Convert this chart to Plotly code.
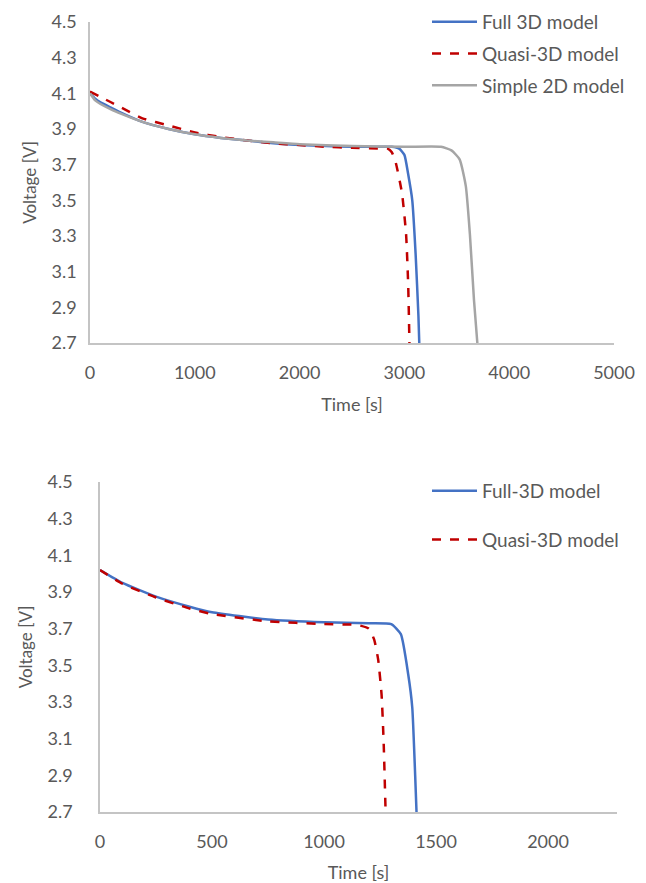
import plotly.graph_objects as go

# ---------------- data ----------------
# Top chart
t_full_top = [0, 50, 100, 200, 300, 500, 750, 1000, 1250, 1500, 1750, 2000, 2250, 2500, 2750, 2880, 2950, 3000, 3035, 3075, 3107, 3134, 3142]
v_full_top = [4.10, 4.07, 4.05, 4.02, 3.99, 3.94, 3.90, 3.87, 3.85, 3.835, 3.82, 3.81, 3.805, 3.80, 3.80, 3.80, 3.79, 3.755, 3.65, 3.50, 3.20, 2.85, 2.70]

t_quasi_top = [0, 100, 200, 300, 500, 750, 1000, 1250, 1500, 1750, 2000, 2250, 2500, 2750, 2840, 2880, 2918, 2977, 3016, 3036, 3048]
v_quasi_top = [4.11, 4.08, 4.05, 4.02, 3.96, 3.92, 3.88, 3.855, 3.835, 3.82, 3.81, 3.80, 3.795, 3.79, 3.79, 3.77, 3.71, 3.54, 3.31, 3.03, 2.70]

t_simple_top = [0, 50, 100, 200, 300, 500, 750, 1000, 1250, 1500, 1750, 2000, 2500, 3000, 3350, 3449, 3527, 3586, 3625, 3664, 3696]
v_simple_top = [4.10, 4.06, 4.04, 4.01, 3.985, 3.94, 3.90, 3.87, 3.85, 3.835, 3.825, 3.815, 3.805, 3.80, 3.80, 3.78, 3.73, 3.58, 3.31, 2.94, 2.70]

# Bottom chart
t_full_bot = [0, 100, 250, 400, 500, 750, 1000, 1200, 1300, 1343, 1376, 1394, 1407, 1413]
v_full_bot = [4.02, 3.95, 3.875, 3.82, 3.79, 3.75, 3.735, 3.73, 3.725, 3.67, 3.45, 3.27, 2.90, 2.70]

t_quasi_bot = [0, 100, 250, 400, 500, 750, 1000, 1150, 1200, 1224, 1242, 1257, 1266, 1275]
v_quasi_bot = [4.02, 3.945, 3.87, 3.81, 3.78, 3.74, 3.725, 3.72, 3.70, 3.64, 3.53, 3.34, 3.09, 2.70]

y_ticks = [2.7, 2.9, 3.1, 3.3, 3.5, 3.7, 3.9, 4.1, 4.3, 4.5]
y_tick_labels = ["2.7", "2.9", "3.1", "3.3", "3.5", "3.7", "3.9", "4.1", "4.3", "4.5"]
x_ticks_top = [0, 1000, 2000, 3000, 4000, 5000]
x_ticks_bot = [0, 500, 1000, 1500, 2000]

# ---------------- styling ----------------
W, H = 646, 883
FONT = "Lato"
TXT = "#595959"
AX = "#C4C4C4"
BLUE = "#4472C4"
RED = "#C00000"
GRAY = "#A5A5A5"
SHAPE = dict(shape="spline", smoothing=0.5)

fig = go.Figure()

fig.add_trace(go.Scatter(x=t_full_top, y=v_full_top, mode="lines", name="Full 3D model",
                         line=dict(color=BLUE, width=2.5, **SHAPE), xaxis="x", yaxis="y",
                         legend="legend", legendgroup="a"))
fig.add_trace(go.Scatter(x=t_quasi_top, y=v_quasi_top, mode="lines", name="Quasi-3D model",
                         line=dict(color=RED, width=2.5, dash="dash", **SHAPE), xaxis="x", yaxis="y",
                         legend="legend", legendgroup="b"))
fig.add_trace(go.Scatter(x=t_simple_top, y=v_simple_top, mode="lines", name="Simple 2D model",
                         line=dict(color=GRAY, width=2.5, **SHAPE), xaxis="x", yaxis="y",
                         legend="legend", legendgroup="c"))

fig.add_trace(go.Scatter(x=t_full_bot, y=v_full_bot, mode="lines", name="Full-3D model",
                         line=dict(color=BLUE, width=2.5, **SHAPE), xaxis="x2", yaxis="y2",
                         legend="legend2", legendgroup="d"))
fig.add_trace(go.Scatter(x=t_quasi_bot, y=v_quasi_bot, mode="lines", name="Quasi-3D model",
                         line=dict(color=RED, width=2.5, dash="dash", **SHAPE), xaxis="x2", yaxis="y2",
                         legend="legend2", legendgroup="e"))


def xax(domain, rng, ticks, anchor):
    return dict(domain=domain, range=rng, tickvals=ticks, ticktext=[str(t) for t in ticks],
                showgrid=False, zeroline=False, showline=True, linecolor=AX, linewidth=1.5,
                ticks="", ticklabelstandoff=13, tickfont=dict(family=FONT, size=18, color=TXT),
                title=dict(text="Time [s]", font=dict(family=FONT, size=18, color=TXT), standoff=16),
                anchor=anchor, fixedrange=True, automargin=False)


def yax(domain, anchor, label_gap):
    return dict(domain=domain, range=[2.7, 4.5], tickvals=y_ticks, ticktext=y_tick_labels,
                showgrid=False, zeroline=False, showline=True, linecolor=AX, linewidth=1.5,
                ticks="", ticklabelstandoff=label_gap, tickfont=dict(family=FONT, size=18, color=TXT),
                title=dict(text="Voltage [V]", font=dict(family=FONT, size=17, color=TXT), standoff=11),
                anchor=anchor, fixedrange=True, automargin=False)


fig.update_layout(
    width=W, height=H,
    margin=dict(l=0, r=0, t=0, b=0, autoexpand=False),
    paper_bgcolor="white", plot_bgcolor="white",
    xaxis=xax([90 / W, 614 / W], [0, 5000], x_ticks_top, "y"),
    yaxis=yax([1 - 343 / H, 1 - 22 / H], "x", 8),
    xaxis2=xax([100 / W, 617 / W], [0, 2308], x_ticks_bot, "y2"),
    yaxis2=yax([1 - 812 / H, 1 - 482 / H], "x2", 22),
    legend=dict(x=427 / W, y=1 - 3 / H, xanchor="left", yanchor="top",
                font=dict(family=FONT, size=19, color=TXT), bgcolor="rgba(0,0,0,0)",
                tracegroupgap=4, itemwidth=45),
    legend2=dict(x=427 / W, y=1 - 472 / H, xanchor="left", yanchor="top",
                 font=dict(family=FONT, size=19, color=TXT), bgcolor="rgba(0,0,0,0)",
                 tracegroupgap=21, itemwidth=45),
    showlegend=True,
)

fig.write_html("out.html", config={"displayModeBar": False},
               post_script="document.body.style.margin='0';")
